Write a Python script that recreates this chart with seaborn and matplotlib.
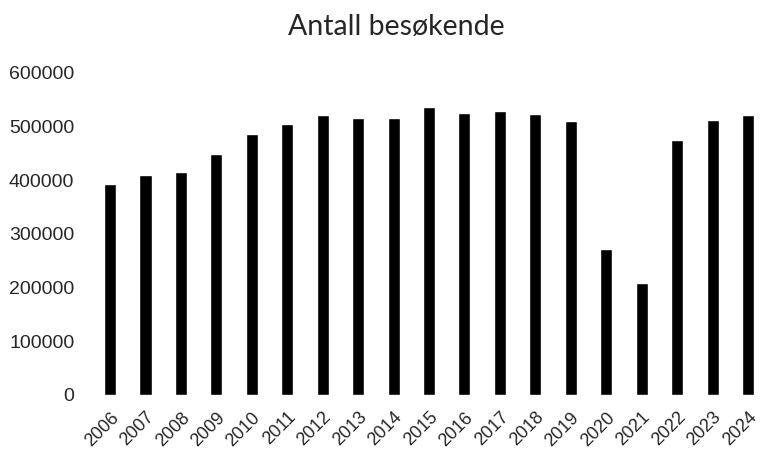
import seaborn as sns
import matplotlib.pyplot as plt
import pandas as pd

sns.set_style("white")
plt.rcParams['font.family'] = ['Liberation Sans', 'DejaVu Sans']

years = ['2006', '2007', '2008', '2009', '2010', '2011', '2012', '2013', '2014', '2015',
         '2016', '2017', '2018', '2019', '2020', '2021', '2022', '2023', '2024']
visitors = [393000, 409000, 415000, 449000, 485000, 505000, 521000, 516000, 515000, 535000,
            525000, 529000, 523000, 509000, 272000, 209000, 475000, 512000, 521000]

df = pd.DataFrame({'year': years, 'visitors': visitors})

fig = plt.figure(figsize=(7.6, 4.49), dpi=100)
ax = fig.add_axes([0.1215, 0.1203, 0.886, 0.7182])
sns.barplot(x='year', y='visitors', data=df, color='black', width=0.34, ax=ax)

ax.set_ylim(0, 600000)
ax.set_xlim(-0.5, 18.5)
ax.set_yticks(range(0, 600001, 100000))
ax.set_yticklabels([str(v) for v in range(0, 600001, 100000)], fontsize=14)
ax.tick_params(axis='y', length=0, pad=13)
ax.tick_params(axis='x', length=0, pad=10)
plt.setp(ax.get_xticklabels(), rotation=45, ha='right', rotation_mode='anchor', fontsize=13)
ax.set_xlabel('')
ax.set_ylabel('')
sns.despine(left=True, bottom=True)
fig.text(0.521, 0.94, 'Antall besøkende', ha='center', va='center', fontsize=20.5,
         family=['Lato', 'DejaVu Sans'])

fig.savefig('out.png', dpi=100)
